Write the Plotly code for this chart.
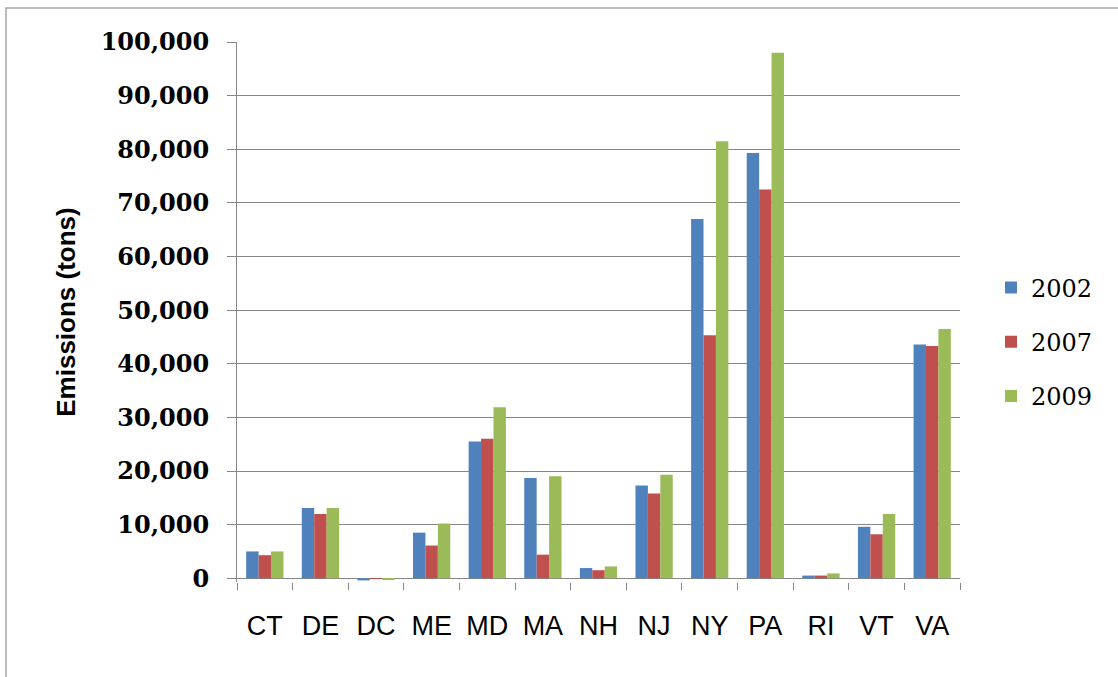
import plotly.graph_objects as go

# Emissions by state, three inventory years (tons)
states = ["CT", "DE", "DC", "ME", "MD", "MA", "NH", "NJ", "NY", "PA", "RI", "VT", "VA"]
years = ["2002", "2007", "2009"]
emis_2002 = [5000, 13100, -400, 8500, 25500, 18700, 1900, 17300, 67000, 79300, 500, 9600, 43600]
emis_2007 = [4300, 12000, -50, 6100, 26000, 4400, 1500, 15800, 45300, 72500, 500, 8200, 43300]
emis_2009 = [5000, 13100, -300, 10200, 31900, 19000, 2200, 19300, 81500, 98000, 900, 12000, 46500]
colors = ["#4F81BD", "#C0504D", "#9BBB59"]
y_ticks = list(range(0, 100001, 10000))

W, H = 1118, 677
ML, MR, MT, MB = 237, 158, 42, 95

fig = go.Figure()
for yr, vals, col in zip(years, [emis_2002, emis_2007, emis_2009], colors):
    fig.add_trace(go.Bar(
        x=states, y=vals, name=yr, marker_color=col,
        marker_line_width=0, legendgroup=yr,
    ))

pw = W - ML - MR
ph = H - MT - MB


def px_to_paper_x(px):
    return (px - ML) / pw


def px_to_paper_y(py):
    return (H - MB - py) / ph


fig.update_layout(
    width=W, height=H,
    margin=dict(l=ML, r=MR, t=MT, b=MB),
    paper_bgcolor="white", plot_bgcolor="white",
    barmode="group", bargap=0.33, bargroupgap=0,
    font=dict(family="Liberation Sans", color="#000000"),
    legend=dict(
        x=px_to_paper_x(991), y=px_to_paper_y(342), xanchor="left", yanchor="middle",
        font=dict(family="DejaVu Serif", size=24, color="#000000"),
        tracegroupgap=20, traceorder="grouped",
        bgcolor="rgba(0,0,0,0)",
    ),
    xaxis=dict(
        showline=False, showgrid=False, zeroline=False,
        ticks="outside", ticklen=7, tickcolor="#868686", tickwidth=1,
        tickson="boundaries", ticklabelstandoff=25,
        tickfont=dict(family="Liberation Sans Narrow, Liberation Sans", size=27, color="#000000"),
        fixedrange=True,
    ),
    yaxis=dict(
        range=[-700, 100000],
        tickvals=y_ticks,
        tickformat=",d",
        showline=True, linecolor="#868686", linewidth=1,
        showgrid=True, gridcolor="#868686", gridwidth=1,
        zeroline=True, zerolinecolor="#868686", zerolinewidth=1,
        ticks="outside", ticklen=9, tickcolor="#868686",
        ticklabelstandoff=13,
        tickfont=dict(family="DejaVu Serif", size=24, color="#000000", weight="bold"),
        title=dict(text="Emissions (tons)", standoff=17,
                   font=dict(family="Liberation Sans", size=26, color="#000000", weight="bold")),
        fixedrange=True,
    ),
    shapes=[dict(
        type="rect", xref="paper", yref="paper",
        x0=px_to_paper_x(6), x1=px_to_paper_x(1130),
        y0=px_to_paper_y(690), y1=px_to_paper_y(8),
        line=dict(color="#A6A6A6", width=1.5), fillcolor="rgba(0,0,0,0)", layer="below",
    )],
)

fig.write_html("out.html")
